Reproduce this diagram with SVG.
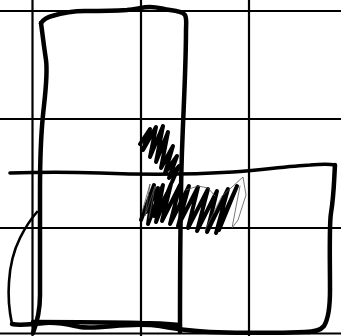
<svg xmlns="http://www.w3.org/2000/svg" width="341" height="336" viewBox="0 0 341 336">
<style>
.grid{stroke:#000;stroke-width:2.2;fill:none}
.pen{stroke:#000;stroke-width:4.5;fill:none;stroke-linecap:round;stroke-linejoin:round}
.hatch{stroke:#000;stroke-width:4;fill:none;stroke-linecap:round;stroke-linejoin:round}
.thin{stroke:#555;stroke-width:0.8;fill:none;stroke-linecap:round;stroke-linejoin:round}
</style>
<rect width="341" height="336" fill="#fff"/>
<g id="grid">
<line class="grid" x1="32.5" y1="0" x2="32.5" y2="336"/>
<line class="grid" x1="141" y1="0" x2="141" y2="336"/>
<line class="grid" x1="249" y1="0" x2="249" y2="336"/>
<line class="grid" x1="0" y1="11" x2="341" y2="11"/>
<line class="grid" x1="0" y1="119" x2="341" y2="119"/>
<line class="grid" x1="0" y1="228" x2="341" y2="228"/>
<line class="grid" x1="0" y1="333.5" x2="341" y2="333.5"/>
</g>
<g id="vertical-rect">
<path class="pen" d="M41,23 C44,19 48,17 52,16 C62,13 72,11 85,11 C100,11 112,11 127,10 C137,9 143,7 150,7 C158,7 162,9 170,10 C178,11 183,12 185,15 C187,19 186,25 186,30 C186,60 184,100 183,125 C182,150 181,170 181,200 C180,240 180,290 180,332"/>
<path class="pen" d="M41,23 C42,30 43,40 46,60 C48,75 45,95 43,115 C41,135 40,160 40,190 C40,230 40,270 40,295 C40,310 38,320 33,333"/>
<path class="pen" d="M33,322 C60,322 100,322 140,323 C160,323 170,324 180,325"/>
</g>
<g id="l-shape">
<path d="M10,173 C40,172 70,172 100,173 C150,175 200,174 233,172 C260,170 290,166 310,165 C322,164 330,164 335,165" stroke="#000" stroke-width="3.6" fill="none" stroke-linecap="round"/>
<path class="pen" d="M335,165 C334,180 334,195 331,213 C329,225 330,260 330,290 C330,305 329,318 324,326 C320,331 314,332 305,332 C280,333 240,333 210,332 C190,331 180,330 160,326 C130,321 100,330 80,327 C70,325 60,322 45,323 C30,324 20,326 12,324"/>
<path d="M12,324 C9,310 8,295 9,282 C10,265 14,250 20,238 C25,228 30,220 37,212" stroke="#000" stroke-width="2.6" fill="none" stroke-linecap="round"/>
</g>
<g id="hatching">
<polyline class="hatch" points="140,144 150,129 143,150 156,127 150,157 163,126 156,162 168,132 161,168 173,146 165,173 177,156 169,178 179,166 172,182"/>
<polyline class="hatch" points="141,220 154,185 148,224 163,185 156,222 171,184 162,221 180,185 170,224 189,186 178,226 198,187 188,228 208,189 197,231 217,191 207,232 228,189 216,233 237,186 219,230"/>
<polyline class="hatch" points="146,212 158,188 154,216 168,192"/>
<polyline class="thin" points="142,212 150,184 145,216 155,186 149,218"/>
<polyline class="thin" points="205,230 222,196 243,177 246,195 238,220 232,228 240,186"/>
<polyline class="thin" points="186,190 198,186 208,188 215,196"/>
</g>
</svg>
